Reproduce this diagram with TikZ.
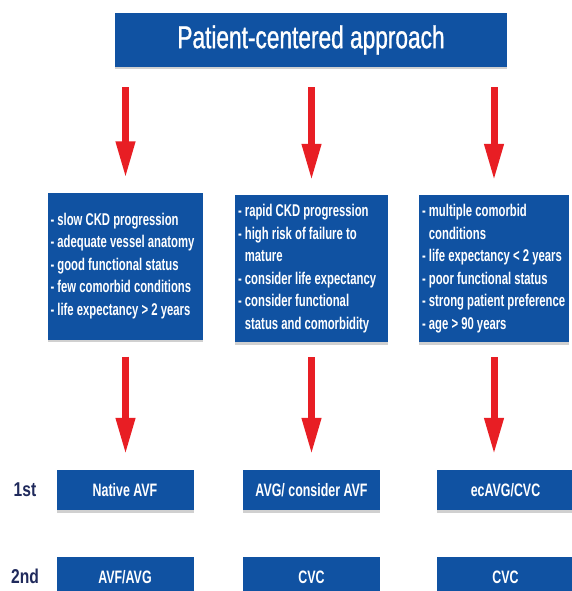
\documentclass[tikz,border=0pt]{standalone}
\usepackage{fontspec}
\setmainfont{Liberation Sans}[FakeStretch=0.72]
\newfontfamily\titlefont{Liberation Sans}[FakeStretch=0.72,FakeBold=1]
\newfontfamily\bodyfont{Liberation Sans}[FakeStretch=0.69]
\newfontfamily\critfont{Liberation Sans}[FakeStretch=0.665]
\newfontfamily\lblfont{Liberation Sans}[FakeStretch=0.78]
\usetikzlibrary{arrows.meta,shadows}
\definecolor{boxblue}{RGB}{16,82,162}
\definecolor{arrowred}{RGB}{232,30,36}
\definecolor{labelnavy}{RGB}{32,42,92}
\begin{document}
\begin{tikzpicture}[x=1pt,y=-1pt,
  bluebox/.style={fill=boxblue, text=white, inner sep=0pt,
    drop shadow={shadow xshift=0pt, shadow yshift=-2.5pt, fill=black!30, opacity=0.6}},
  titlebox/.style={bluebox, minimum width=392pt, minimum height=54pt,
    font=\titlefont\fontsize{31.5}{36}\selectfont},
  critbox/.style={bluebox, minimum height=147pt},
  crittext/.style={text=white, align=left, inner sep=0pt, anchor=west,
    font=\critfont\bfseries\fontsize{17}{22.5}\selectfont},
  choicebox/.style={bluebox, minimum width=137pt, minimum height=40pt,
    font=\bodyfont\bfseries\fontsize{18}{20}\selectfont},
  rowlabel/.style={text=labelnavy, font=\lblfont\bfseries\fontsize{20}{22}\selectfont},
  redarrow/.style={draw=arrowred, line width=7pt, -{Triangle[width=18pt,length=37pt]}}
]
\useasboundingbox[fill=white] (0,0) rectangle (572,591);

\node[titlebox] (title) at (311,40) {Patient-centered approach};

\node[critbox, minimum width=155pt] (critL) at (125.5,266) {};
\node[critbox, minimum width=153pt] (critM) at (311.5,268.5) {};
\node[critbox, minimum width=150pt] (critR) at (494,268.5) {};

\node[crittext] (critLtext) at ([xshift=2.5pt]critL.west) {%
- slow CKD progression\\
- adequate vessel anatomy\\
- good functional status\\
- few comorbid conditions\\
- life expectancy > 2 years};

\node[crittext] (critMtext) at ([xshift=3pt]critM.west) {%
- rapid CKD progression\\
- high risk of failure to\\
\hphantom{-~}mature\\
- consider life expectancy\\
- consider functional\\
\hphantom{-~}status and comorbidity};

\node[crittext] (critRtext) at ([xshift=3pt]critR.west) {%
- multiple comorbid\\
\hphantom{-~}conditions\\
- life expectancy < 2 years\\
- poor functional status\\
- strong patient preference\\
- age > 90 years};

\node[choicebox] (firstL) at (125,490) {Native AVF};
\node[choicebox] (firstM) at (311.5,490) {AVG/ consider AVF};
\node[choicebox] (firstR) at (505.5,490) {ecAVG/CVC};

\node[choicebox] (secondL) at (125,577) {AVF/AVG};
\node[choicebox] (secondM) at (311.5,577) {CVC};
\node[choicebox] (secondR) at (505.5,577) {CVC};

\node[rowlabel] (lab1) at (25,490) {1st};
\node[rowlabel] (lab2) at (25,576) {2nd};

\foreach \c in {critL,critM,critR}{
  \draw[redarrow, shorten <=20pt, shorten >=14pt] (title.south -| \c.north) -- (\c.north);
}
\draw[redarrow, shorten <=17pt, shorten >=15pt] (critL.south) -- (critL.south |- firstL.north);
\draw[redarrow, shorten <=15pt, shorten >=15pt] (critM.south) -- (critM.south |- firstM.north);
\draw[redarrow, shorten <=15pt, shorten >=15pt] (critR.south) -- (critR.south |- firstR.north);
\end{tikzpicture}
\end{document}
